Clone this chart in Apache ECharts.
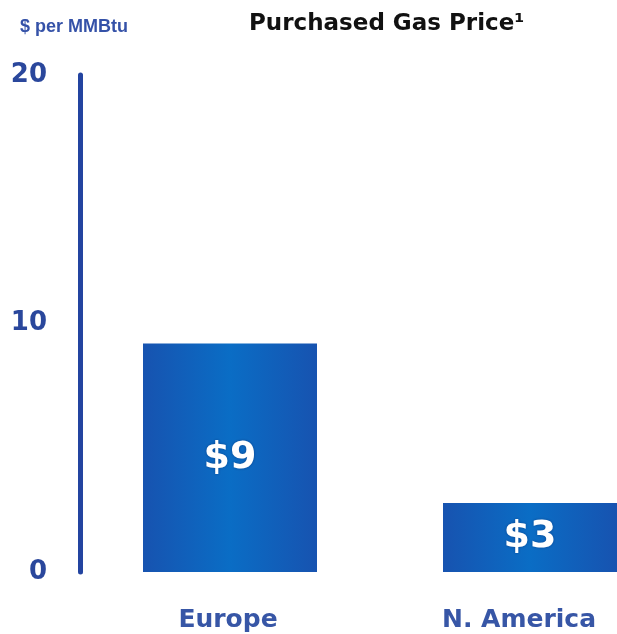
<!DOCTYPE html>
<html>
<head>
<meta charset="utf-8">
<script src="https://cdn.jsdelivr.net/npm/echarts@6/dist/echarts.min.js"></script>
<style>
  html, body { margin: 0; padding: 0; background: #fff; }
  #main { width: 617px; height: 634px; }
</style>
</head>
<body>
<div id="main"></div>
<script>
var categories = ['Europe', 'N. America'];
var prices = [9.2, 2.78];
var barLabels = ['$9', '$3'];
var yTicks = [0, 10, 20];

var chart = echarts.init(document.getElementById('main'));

// bars sit on a value x axis so the second bar can run off the right edge
var barData = prices.map(function (v, i) { return [i, v]; });

var barFill = {
  type: 'linear', x: 0, y: 0, x2: 1, y2: 0,
  colorStops: [
    { offset: 0, color: '#1753b0' },
    { offset: 0.5, color: '#0a6dc5' },
    { offset: 1, color: '#1753b0' }
  ]
};

var catFont = { fontFamily: 'DejaVu Sans', fontWeight: 'bold', fontSize: 25, color: '#3756a6' };

var option = {
  animation: false,
  title: [
    {
      text: 'Purchased Gas Price¹',
      left: 244, top: 8,
      textStyle: { fontFamily: 'DejaVu Sans', fontWeight: 'bold', fontSize: 23, color: '#111' }
    },
    {
      text: '$ per MMBtu',
      left: 15, top: 13,
      textStyle: { fontFamily: 'Liberation Sans', fontWeight: 'bold', fontSize: 18, color: '#3552a8' }
    }
  ],
  grid: { left: 80, right: 0, top: 75, bottom: 62, containLabel: false },
  xAxis: {
    type: 'value',
    min: -0.5, max: 1.29,
    axisLine: { show: false },
    axisTick: { show: false },
    splitLine: { show: false },
    axisLabel: {
      customValues: [0, 1],
      formatter: function (v) {
        var i = Math.round(v);
        return (i === 1 ? '{b|' : '{a|') + categories[i] + '}';
      },
      margin: 36,
      rich: {
        a: Object.assign({ padding: [0, 4, 0, 0] }, catFont),
        b: Object.assign({ padding: [0, 22, 0, 0] }, catFont)
      }
    }
  },
  yAxis: {
    type: 'value',
    min: yTicks[0], max: yTicks[yTicks.length - 1], interval: 10,
    axisLine: { show: true, onZero: false, lineStyle: { color: '#2344a0', width: 5 } },
    axisTick: { show: false },
    splitLine: { show: false },
    axisLabel: {
      margin: 33,
      fontFamily: 'DejaVu Sans', fontWeight: 'bold', fontSize: 26, color: '#2a479c'
    }
  },
  series: [{
    type: 'bar',
    data: barData,
    barWidth: 174,
    itemStyle: { color: barFill },
    label: {
      show: true,
      position: 'inside',
      formatter: function (p) { return barLabels[p.dataIndex]; },
      fontFamily: 'DejaVu Sans', fontWeight: 'bold', fontSize: 38, color: '#fff',
      textShadowColor: 'rgba(0,30,90,0.5)', textShadowBlur: 3
    }
  }]
};

chart.setOption(option);
</script>
</body>
</html>
